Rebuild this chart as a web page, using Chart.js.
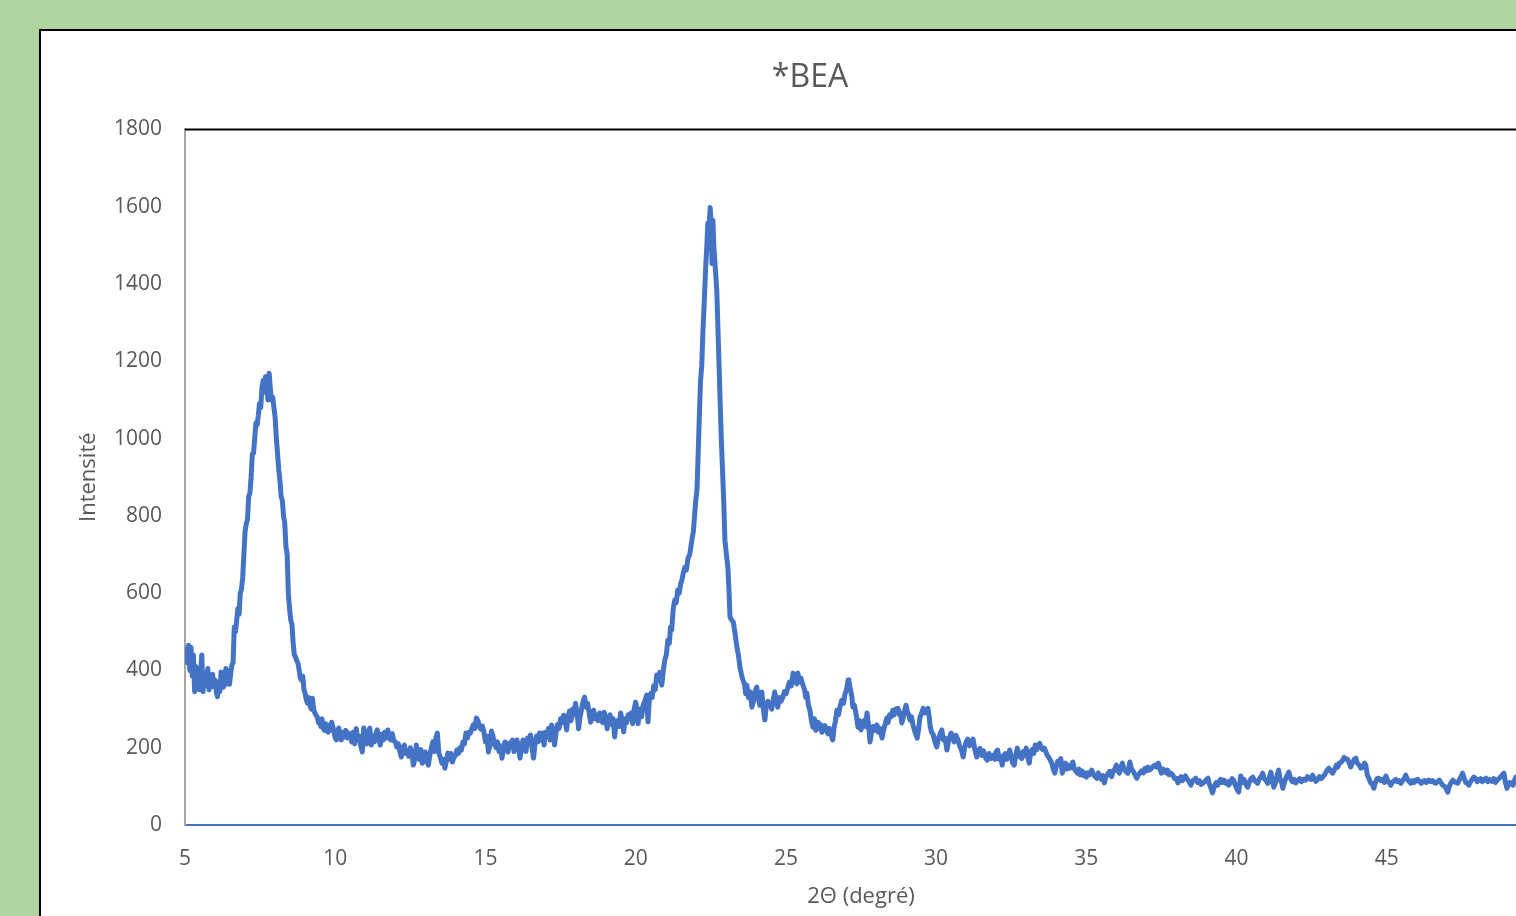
<!DOCTYPE html>
<html>
<head>
<meta charset="utf-8">
<title>*BEA</title>
<script src="https://cdn.jsdelivr.net/npm/chart.js@4.4.1/dist/chart.umd.min.js"></script>
<style>
    html, body { margin: 0; padding: 0; overflow: hidden; background: #b0d4a1; }
    #frame {
        position: absolute; left: 39px; top: 29px;
        width: 1620px; height: 1000px;
        background: #fff; border: 2px solid #000;
    }
    #wrap { position: absolute; left: 0; top: 0; width: 1620px; height: 916px; }
</style>
</head>
<body>
<div id="frame"></div>
<div id="wrap"><canvas id="xrdChart"></canvas></div>
<script>
// ----------------------------
// Data
// ----------------------------
const chartTitle = '*BEA';
const xTitle = '2\u0398 (degré)';
const yTitle = 'Intensité';
const xTicks = [5, 10, 15, 20, 25, 30, 35, 40, 45, 50];
const yTicks = [0, 200, 400, 600, 800, 1000, 1200, 1400, 1600, 1800];

const theta = [
    5.00, 5.04, 5.08, 5.12, 5.16, 5.20, 5.24, 5.28, 5.32, 5.36, 5.40, 5.44, 5.48, 5.52, 5.56, 5.60,
    5.64, 5.68, 5.72, 5.76, 5.80, 5.84, 5.88, 5.92, 5.96, 6.00, 6.04, 6.08, 6.12, 6.16, 6.20, 6.24,
    6.28, 6.32, 6.36, 6.40, 6.44, 6.48, 6.52, 6.56, 6.60, 6.64, 6.68, 6.72, 6.76, 6.80, 6.84, 6.88,
    6.92, 6.96, 7.00, 7.04, 7.08, 7.12, 7.16, 7.20, 7.24, 7.28, 7.32, 7.36, 7.40, 7.44, 7.48, 7.52,
    7.56, 7.60, 7.64, 7.68, 7.72, 7.76, 7.80, 7.84, 7.88, 7.92, 7.96, 8.00, 8.04, 8.08, 8.12, 8.16,
    8.20, 8.24, 8.28, 8.32, 8.36, 8.40, 8.44, 8.48, 8.52, 8.56, 8.60, 8.64, 8.68, 8.72, 8.76, 8.80,
    8.84, 8.88, 8.92, 8.96, 9.00, 9.04, 9.08, 9.12, 9.16, 9.20, 9.24, 9.28, 9.32, 9.36, 9.40, 9.44,
    9.48, 9.52, 9.56, 9.60, 9.64, 9.68, 9.72, 9.76, 9.80, 9.84, 9.88, 9.92, 9.96, 10.00, 10.04, 10.08,
    10.12, 10.16, 10.20, 10.25, 10.30, 10.35, 10.40, 10.45, 10.50, 10.55, 10.60, 10.65, 10.70, 10.75, 10.80, 10.85,
    10.90, 10.95, 11.00, 11.05, 11.10, 11.15, 11.20, 11.25, 11.30, 11.35, 11.40, 11.45, 11.50, 11.55, 11.60, 11.65,
    11.70, 11.75, 11.80, 11.85, 11.90, 11.95, 12.00, 12.05, 12.10, 12.15, 12.20, 12.25, 12.30, 12.35, 12.40, 12.45,
    12.50, 12.55, 12.60, 12.65, 12.70, 12.75, 12.80, 12.85, 12.90, 12.95, 13.00, 13.05, 13.10, 13.15, 13.20, 13.25,
    13.30, 13.35, 13.40, 13.45, 13.50, 13.55, 13.60, 13.65, 13.70, 13.75, 13.80, 13.85, 13.90, 13.95, 14.00, 14.05,
    14.10, 14.15, 14.20, 14.25, 14.30, 14.35, 14.40, 14.45, 14.50, 14.55, 14.60, 14.65, 14.70, 14.75, 14.80, 14.85,
    14.90, 14.95, 15.00, 15.05, 15.10, 15.15, 15.20, 15.25, 15.30, 15.35, 15.40, 15.45, 15.50, 15.55, 15.60, 15.65,
    15.70, 15.75, 15.80, 15.85, 15.90, 15.95, 16.00, 16.05, 16.10, 16.15, 16.20, 16.25, 16.30, 16.35, 16.40, 16.45,
    16.50, 16.55, 16.60, 16.65, 16.70, 16.75, 16.80, 16.85, 16.90, 16.95, 17.00, 17.05, 17.10, 17.15, 17.20, 17.25,
    17.30, 17.35, 17.40, 17.45, 17.50, 17.55, 17.60, 17.65, 17.70, 17.75, 17.80, 17.85, 17.90, 17.95, 18.00, 18.05,
    18.10, 18.15, 18.20, 18.25, 18.30, 18.35, 18.40, 18.45, 18.50, 18.55, 18.60, 18.65, 18.70, 18.75, 18.80, 18.85,
    18.90, 18.95, 19.00, 19.05, 19.10, 19.15, 19.20, 19.25, 19.30, 19.35, 19.40, 19.45, 19.50, 19.55, 19.60, 19.65,
    19.70, 19.75, 19.80, 19.85, 19.90, 19.95,
    20.00, 20.04, 20.08, 20.12, 20.16, 20.20, 20.25, 20.30, 20.37, 20.41, 20.45, 20.50, 20.55, 20.60, 20.65, 20.70,
    20.75, 20.80, 20.87, 20.92, 20.97, 21.02, 21.07, 21.12, 21.16, 21.20, 21.25, 21.30, 21.35, 21.40, 21.45, 21.50,
    21.54, 21.58, 21.64, 21.69, 21.74, 21.80, 21.87, 21.92, 21.96, 22.00, 22.04, 22.08, 22.12, 22.16, 22.20, 22.24,
    22.28, 22.33, 22.37, 22.40, 22.44, 22.48, 22.51, 22.54, 22.57, 22.60, 22.64, 22.67, 22.70, 22.74, 22.78, 22.81,
    22.85, 22.89, 22.93, 22.97, 23.02, 23.07, 23.11, 23.14, 23.20, 23.25, 23.30, 23.37, 23.42, 23.47, 23.52, 23.57,
    23.62, 23.66, 23.70, 23.75, 23.80, 23.87, 23.92, 23.97, 24.03, 24.08, 24.13, 24.17, 24.20, 24.25, 24.30, 24.35,
    24.40, 24.45, 24.53, 24.58, 24.63, 24.68, 24.73, 24.78, 24.84, 24.90, 24.95, 25.01, 25.07, 25.12, 25.18, 25.24,
    25.28, 25.32, 25.36, 25.40, 25.45, 25.50, 25.57, 25.62, 25.66, 25.70, 25.75, 25.80, 25.85, 25.90, 25.95, 26.00,
    26.07, 26.12, 26.16, 26.20, 26.25, 26.30, 26.35, 26.40, 26.45, 26.50, 26.56, 26.60, 26.65, 26.70, 26.75, 26.80,
    26.86, 26.92, 26.97, 27.02, 27.07, 27.10, 27.15, 27.20, 27.23, 27.28, 27.33, 27.40, 27.45, 27.50, 27.55, 27.60,
    27.65, 27.70, 27.75, 27.80, 27.85, 27.90, 27.95, 28.03, 28.08, 28.13, 28.20, 28.25, 28.30, 28.36, 28.40, 28.45,
    28.50, 28.56, 28.60, 28.65, 28.73, 28.78, 28.82, 28.86, 28.91, 28.95, 29.00, 29.05, 29.09, 29.13, 29.18, 29.23,
    29.30, 29.37, 29.42, 29.46, 29.52, 29.57, 29.62, 29.67, 29.73, 29.77, 29.80, 29.85, 29.90, 29.96, 30.02, 30.08,
    30.13, 30.19, 30.24, 30.30, 30.36, 30.42, 30.46, 30.50, 30.55, 30.60, 30.66, 30.72, 30.78, 30.84, 30.90, 30.95,
    31.00, 31.06, 31.12, 31.18, 31.23, 31.29, 31.35, 31.40, 31.46, 31.52, 31.58, 31.64, 31.70, 31.76, 31.82, 31.90,
    31.96, 32.00, 32.05, 32.10, 32.15, 32.20, 32.25, 32.30, 32.35, 32.40, 32.45, 32.50, 32.55, 32.60, 32.65, 32.70,
    32.75, 32.80, 32.85, 32.90, 32.95, 33.00, 33.05, 33.10, 33.15, 33.20, 33.25, 33.30, 33.35, 33.40, 33.45, 33.50,
    33.55, 33.60, 33.65, 33.70, 33.75, 33.80, 33.85, 33.90, 33.95, 34.00, 34.05, 34.10, 34.15, 34.20, 34.25, 34.30,
    34.35, 34.40, 34.45, 34.50, 34.55, 34.60, 34.65, 34.70, 34.75, 34.80, 34.85, 34.90, 34.95, 35.00, 35.05, 35.10,
    35.18, 35.24, 35.30, 35.35, 35.40, 35.45, 35.50, 35.55, 35.60, 35.65, 35.70, 35.78, 35.84, 35.90, 35.95, 36.00,
    36.05, 36.10, 36.15, 36.20, 36.25, 36.30, 36.38, 36.45, 36.50, 36.55, 36.62, 36.68, 36.73, 36.78, 36.84, 36.90,
    36.95, 37.00, 37.05, 37.10, 37.15, 37.20, 37.28, 37.34, 37.40, 37.45, 37.50, 37.55, 37.60, 37.65, 37.70, 37.75,
    37.80, 37.88, 37.94, 38.00, 38.05, 38.10, 38.15, 38.20, 38.25, 38.30, 38.36, 38.42, 38.48, 38.54, 38.60, 38.64,
    38.70, 38.76, 38.82, 38.88, 38.94, 39.00, 39.05, 39.10, 39.15, 39.20, 39.26, 39.32, 39.37, 39.42, 39.47, 39.52,
    39.58, 39.64, 39.70, 39.74, 39.80, 39.85, 39.90, 39.95, 40.00, 40.07, 40.14, 40.20, 40.25, 40.31, 40.37, 40.42,
    40.48, 40.54, 40.60, 40.65, 40.70, 40.76, 40.82, 40.87, 40.92, 40.98, 41.04, 41.10, 41.14, 41.19, 41.24, 41.30,
    41.35, 41.40, 41.45, 41.50, 41.54, 41.60, 41.66, 41.70, 41.74, 41.80, 41.86, 41.92, 41.97, 42.03, 42.10, 42.16,
    42.22, 42.30, 42.36, 42.42, 42.48, 42.53, 42.59, 42.64, 42.70, 42.76, 42.82, 42.87, 42.93, 43.00, 43.07, 43.13,
    43.20, 43.27, 43.32, 43.37, 43.42, 43.48, 43.53, 43.58, 43.64, 43.70, 43.75, 43.80, 43.86, 43.92, 43.97, 44.02,
    44.08, 44.14, 44.20, 44.26, 44.30, 44.35, 44.40, 44.46, 44.52, 44.57, 44.62, 44.68, 44.73, 44.80, 44.86, 44.92,
    44.97, 45.03, 45.08, 45.13, 45.18, 45.23, 45.30, 45.35, 45.41, 45.47, 45.53, 45.58, 45.63, 45.69, 45.75, 45.80,
    45.86, 45.92, 45.97, 46.03, 46.09, 46.15, 46.20, 46.26, 46.32, 46.40, 46.46, 46.52, 46.58, 46.63, 46.69, 46.75,
    46.80, 46.86, 46.92, 46.97, 47.03, 47.08, 47.14, 47.20, 47.25, 47.30, 47.36, 47.42, 47.47, 47.52, 47.58, 47.63,
    47.68, 47.73, 47.79, 47.84, 47.90, 47.96, 48.01, 48.06, 48.12, 48.18, 48.24, 48.30, 48.36, 48.42, 48.50, 48.56,
    48.62, 48.67, 48.73, 48.80, 48.85, 48.90, 48.95, 49.00, 49.05, 49.10, 49.15, 49.20, 49.25, 49.30, 49.40, 49.50,
    49.60, 49.70, 49.80, 49.90, 50.00
];

const intensity = [
    430, 455, 420, 465, 400, 460, 385, 440, 345, 410, 375, 395, 350, 400, 440, 345,
    390, 360, 380, 405, 350, 385, 357, 390, 360, 375, 345, 332, 370, 345, 396, 360,
    357, 380, 405, 365, 400, 364, 390, 414, 420, 512, 500, 530, 560, 545, 600, 610,
    640, 700, 760, 780, 790, 850, 858, 900, 960, 962, 1000, 1040, 1035, 1060, 1091, 1080,
    1130, 1150, 1120, 1160, 1145, 1100, 1169, 1130, 1100, 1107, 1080, 1055, 1000, 962, 920, 892,
    850, 840, 800, 781, 720, 700, 600, 560, 530, 520, 470, 440, 435, 425, 419, 400,
    380, 375, 385, 350, 340, 323, 315, 330, 310, 300, 328, 300, 290, 284, 280, 265,
    272, 255, 275, 251, 245, 262, 250, 240, 258, 245, 266, 255, 240, 225, 220, 245,
    251, 230, 220, 240, 228, 245, 225, 238, 233, 215, 240, 210, 250, 220, 230, 205,
    189, 251, 225, 210, 240, 251, 207, 230, 215, 235, 246, 222, 207, 235, 220, 240,
    225, 246, 230, 220, 236, 218, 215, 202, 210, 190, 176, 200, 207, 185, 192, 178,
    200, 185, 155, 170, 207, 180, 170, 195, 160, 175, 189, 165, 155, 180, 200, 215,
    190, 225, 238, 186, 175, 160, 170, 147, 165, 186, 170, 185, 163, 175, 180, 194,
    185, 200, 194, 215, 210, 238, 225, 240, 238, 250, 260, 250, 277, 270, 256, 248,
    256, 240, 215, 230, 189, 205, 243, 230, 210, 200, 215, 190, 205, 173, 195, 215,
    200, 189, 212, 205, 220, 190, 205, 220, 200, 173, 195, 220, 210, 190, 225, 215,
    233, 200, 173, 210, 230, 215, 238, 220, 238, 207, 240, 230, 250, 220, 259, 245,
    207, 240, 260, 250, 275, 265, 284, 270, 246, 280, 295, 270, 300, 285, 315, 290,
    249, 280, 300, 320, 331, 305, 315, 290, 266, 285, 297, 275, 285, 270, 290, 275,
    265, 292, 280, 249, 270, 285, 260, 275, 228, 265, 270, 255, 290, 270, 241, 275,
    265, 285, 275, 290, 262, 300,
    318, 300, 262, 290, 300, 280, 310, 320, 336, 267, 320, 340, 330, 360, 350, 388,
    375, 395, 362, 400, 427, 440, 478, 470, 512, 505, 560, 582, 575, 608, 600, 625,
    634, 650, 667, 660, 690, 700, 737, 760, 800, 840, 866, 960, 1060, 1150, 1190, 1280,
    1350, 1443, 1500, 1557, 1540, 1598, 1560, 1453, 1565, 1500, 1453, 1420, 1383, 1280, 1180, 1099,
    1000, 920, 840, 737, 700, 667, 600, 538, 530, 525, 500, 460, 440, 409, 390, 375,
    365, 340, 362, 330, 345, 305, 320, 345, 357, 330, 310, 325, 344, 300, 272, 310,
    320, 315, 300, 325, 344, 320, 305, 330, 320, 331, 345, 340, 357, 370, 360, 393,
    375, 385, 365, 393, 370, 380, 362, 350, 330, 341, 310, 297, 270, 253, 275, 245,
    266, 250, 260, 240, 250, 257, 245, 236, 250, 235, 220, 250, 270, 297, 285, 305,
    323, 315, 340, 350, 375, 370, 350, 330, 305, 310, 290, 253, 270, 246, 265, 270,
    255, 290, 260, 215, 240, 255, 245, 259, 240, 250, 225, 245, 260, 277, 265, 285,
    280, 297, 285, 300, 302, 285, 290, 264, 280, 295, 310, 290, 285, 272, 280, 259,
    240, 225, 250, 277, 290, 302, 290, 295, 302, 280, 256, 240, 235, 215, 202, 225,
    235, 246, 220, 225, 194, 220, 230, 238, 225, 215, 232, 222, 205, 195, 176, 200,
    215, 222, 205, 215, 222, 195, 176, 190, 198, 180, 192, 175, 168, 185, 172, 181,
    170, 190, 194, 170, 178, 155, 175, 185, 170, 180, 194, 175, 160, 155, 180, 199,
    185, 175, 172, 190, 180, 199, 175, 160, 190, 195, 185, 207, 195, 205, 211, 200,
    195, 199, 190, 180, 175, 168, 160, 145, 134, 150, 165, 160, 172, 134, 150, 160,
    145, 155, 147, 150, 163, 145, 140, 134, 145, 130, 140, 128, 135, 124, 135, 130,
    142, 130, 125, 121, 135, 125, 118, 128, 109, 125, 130, 139, 125, 140, 145, 155,
    140, 134, 150, 160, 145, 140, 134, 163, 145, 140, 130, 121, 130, 134, 140, 135,
    147, 140, 150, 142, 145, 150, 155, 150, 160, 145, 134, 145, 140, 135, 142, 130,
    135, 129, 120, 121, 109, 120, 125, 115, 120, 127, 118, 112, 103, 115, 118, 121,
    110, 115, 105, 108, 112, 118, 121, 105, 95, 83, 100, 110, 103, 112, 118, 110,
    116, 108, 112, 103, 110, 120, 116, 105, 95, 85, 127, 110, 118, 105, 98, 110,
    120, 124, 115, 112, 108, 120, 125, 134, 120, 115, 108, 125, 137, 115, 98, 110,
    128, 142, 118, 110, 95, 112, 125, 130, 137, 120, 112, 118, 109, 115, 120, 112,
    118, 116, 125, 120, 118, 129, 120, 113, 118, 125, 120, 124, 130, 140, 147, 140,
    134, 145, 155, 150, 160, 162, 168, 175, 170, 170, 160, 150, 162, 170, 173, 160,
    155, 147, 150, 160, 155, 130, 121, 110, 105, 95, 110, 120, 121, 115, 118, 110,
    127, 115, 110, 103, 110, 113, 118, 112, 115, 108, 115, 120, 129, 118, 112, 108,
    115, 110, 116, 118, 112, 108, 113, 115, 110, 116, 112, 115, 110, 108, 112, 116,
    110, 103, 100, 95, 85, 100, 110, 116, 112, 110, 108, 118, 125, 134, 120, 110,
    108, 103, 112, 118, 124, 120, 112, 116, 120, 112, 118, 121, 112, 118, 113, 120,
    110, 116, 120, 125, 130, 134, 110, 95, 105, 110, 108, 103, 115, 124, 110, 116,
    108, 118, 112, 115, 110
];

// ----------------------------
// Styles
// ----------------------------
const textColor = '#595959';
const lineColor = '#4472C4';
const fontFamily = '"Open Sans", "Liberation Sans", sans-serif';

// black frame line along the top of the plot area
const plotFrame = {
    id: 'plotFrame',
    beforeDatasetsDraw(chart) {
        const { ctx, chartArea } = chart;
        ctx.save();
        ctx.strokeStyle = '#000';
        ctx.lineWidth = 2;
        ctx.beginPath();
        ctx.moveTo(chartArea.left, chartArea.top);
        ctx.lineTo(chartArea.right, chartArea.top);
        ctx.lineTo(chartArea.right, chartArea.bottom);
        ctx.stroke();
        ctx.restore();
    }
};

const points = theta.map((t, i) => ({ x: t, y: intensity[i] }));

// ----------------------------
// Chart
// ----------------------------
const ctx = document.getElementById('xrdChart').getContext('2d');
new Chart(ctx, {
    type: 'line',
    data: {
        datasets: [{
            data: points,
            borderColor: lineColor,
            borderWidth: 5,
            borderJoinStyle: 'round',
            borderCapStyle: 'round',
            pointRadius: 0,
            tension: 0,
            fill: false
        }]
    },
    options: {
        responsive: true,
        maintainAspectRatio: false,
        animation: false,
        layout: { padding: 0 },
        plugins: {
            legend: { display: false },
            tooltip: { enabled: false },
            title: {
                display: true,
                text: chartTitle,
                color: textColor,
                font: { family: fontFamily, size: 32, weight: 'normal' },
                padding: { top: 59, bottom: 32 }
            }
        },
        scales: {
            x: {
                type: 'linear',
                min: xTicks[0],
                max: xTicks[xTicks.length - 1],
                afterBuildTicks: s => { s.ticks = xTicks.map(v => ({ value: v })); },
                afterFit: s => { s.height = 91; },
                grid: { display: false, drawTicks: false },
                border: { display: true, color: lineColor, width: 2 },
                ticks: {
                    color: textColor,
                    padding: 21,
                    maxRotation: 0,
                    font: { family: fontFamily, size: 21 },
                    callback: v => String(v)
                },
                title: {
                    display: true,
                    text: xTitle,
                    color: textColor,
                    font: { family: fontFamily, size: 22 },
                    padding: { top: 0, bottom: 6 }
                }
            },
            y: {
                position: 'left',
                min: yTicks[0],
                max: yTicks[yTicks.length - 1],
                afterBuildTicks: s => { s.ticks = yTicks.map(v => ({ value: v })); },
                afterFit: s => { s.width = 185; },
                grid: { display: false, drawTicks: false },
                border: { display: true, color: '#a6a6a6', width: 2 },
                ticks: {
                    color: textColor,
                    padding: 23,
                    font: { family: fontFamily, size: 21 },
                    callback: v => String(v)
                },
                title: {
                    display: true,
                    text: yTitle,
                    color: textColor,
                    font: { family: fontFamily, size: 22 },
                    padding: { top: 76, bottom: 0 }
                }
            },
            yRight: {
                position: 'right',
                display: true,
                afterFit: s => { s.width = 83; },
                grid: { display: false, drawTicks: false },
                border: { display: false },
                ticks: { display: false }
            }
        }
    },
    plugins: [plotFrame]
});
</script>
</body>
</html>
